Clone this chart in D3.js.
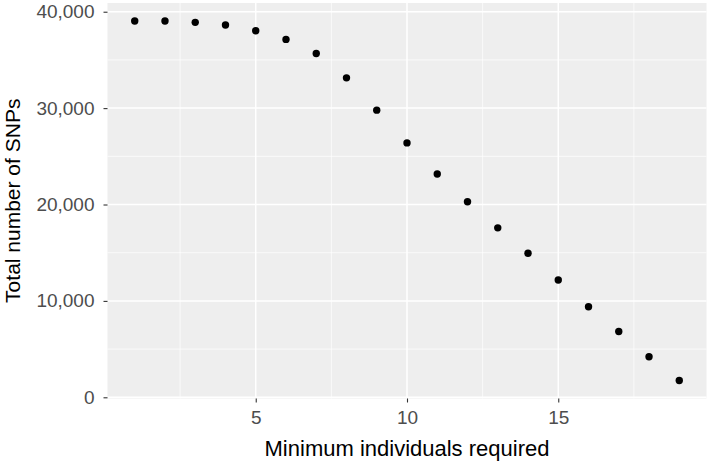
<!DOCTYPE html>
<html>
<head>
<meta charset="utf-8">
<script src="https://cdn.jsdelivr.net/npm/d3@7"></script>
<style>
  body { margin: 0; background: #fff; }
  svg { display: block; font-family: "Liberation Sans", Arial, sans-serif; }
</style>
</head>
<body>
<svg width="709" height="462"></svg>
<script>
// Data
const minIndividuals = [1, 2, 3, 4, 5, 6, 7, 8, 9, 10, 11, 12, 13, 14, 15, 16, 17, 18, 19];
const totalSNPs = [39040, 39040, 38900, 38630, 38030, 37130, 35670, 33140, 29790, 26390,
  23160, 20280, 17580, 14945, 12170, 9400, 6830, 4200, 1740];
const xTicks = [5, 10, 15];
const xMinor = [2.5, 7.5, 12.5, 17.5];
const yTicks = [0, 10000, 20000, 30000, 40000];
const yMinor = [5000, 15000, 25000, 35000];

const data = minIndividuals.map((m, i) => ({ m: m, n: totalSNPs[i] }));

const panel = { left: 107.5, right: 706.5, top: 3, bottom: 398.5 };

const svg = d3.select("svg");

// ggplot-style 5% expansion
const xExt = d3.extent(data, d => d.m), xPad = (xExt[1] - xExt[0]) * 0.05;
const yExt = d3.extent(data, d => d.n), yPad = (yExt[1] - yExt[0]) * 0.05;

const x = d3.scaleLinear()
  .domain([xExt[0] - xPad, xExt[1] + xPad])
  .range([panel.left, panel.right]);
const y = d3.scaleLinear()
  .domain([yExt[0] - yPad, yExt[1] + yPad])
  .range([panel.bottom, panel.top]);

// Panel background
svg.append("rect")
  .attr("x", panel.left).attr("y", panel.top)
  .attr("width", panel.right - panel.left)
  .attr("height", panel.bottom - panel.top)
  .attr("fill", "#EEEEEE");

const grid = svg.append("g");
// minor grid
grid.selectAll(".xminor").data(xMinor).enter().append("line")
  .attr("x1", d => x(d)).attr("x2", d => x(d))
  .attr("y1", panel.top).attr("y2", panel.bottom)
  .attr("stroke", "#fff").attr("stroke-width", 0.7);
grid.selectAll(".yminor").data(yMinor).enter().append("line")
  .attr("x1", panel.left).attr("x2", panel.right)
  .attr("y1", d => y(d)).attr("y2", d => y(d))
  .attr("stroke", "#fff").attr("stroke-width", 0.7);
// major grid
grid.selectAll(".xmajor").data(xTicks).enter().append("line")
  .attr("x1", d => x(d)).attr("x2", d => x(d))
  .attr("y1", panel.top).attr("y2", panel.bottom)
  .attr("stroke", "#fff").attr("stroke-width", 1.5);
grid.selectAll(".ymajor").data(yTicks).enter().append("line")
  .attr("x1", panel.left).attr("x2", panel.right)
  .attr("y1", d => y(d)).attr("y2", d => y(d))
  .attr("stroke", "#fff").attr("stroke-width", 1.5);

// Axes
const xAxis = svg.append("g")
  .attr("transform", `translate(0, ${panel.bottom})`)
  .call(d3.axisBottom(x).tickValues(xTicks).tickSize(4).tickPadding(8));
const yAxis = svg.append("g")
  .attr("transform", `translate(${panel.left}, 0)`)
  .call(d3.axisLeft(y).tickValues(yTicks).tickSize(4).tickPadding(9)
    .tickFormat(d3.format(",")));

[xAxis, yAxis].forEach(ax => {
  ax.select(".domain").remove();
  ax.selectAll(".tick line").attr("stroke", "#333333").attr("stroke-width", 1.1);
  ax.selectAll(".tick text")
    .attr("fill", "#4D4D4D")
    .style("font-size", "19px")
    .style("font-family", "'Liberation Sans', Arial, sans-serif");
});

// Points
svg.append("g").selectAll("circle")
  .data(data).enter().append("circle")
  .attr("cx", d => x(d.m))
  .attr("cy", d => y(d.n))
  .attr("r", 3.7)
  .attr("fill", "#000");

// Axis titles
svg.append("text")
  .attr("x", (panel.left + panel.right) / 2)
  .attr("y", 456)
  .attr("text-anchor", "middle")
  .style("font-size", "22px")
  .attr("fill", "#000")
  .text("Minimum individuals required");

svg.append("text")
  .attr("transform", `translate(20, ${(panel.top + panel.bottom) / 2}) rotate(-90)`)
  .attr("text-anchor", "middle")
  .style("font-size", "21px")
  .attr("fill", "#000")
  .text("Total number of SNPs");
</script>
</body>
</html>
